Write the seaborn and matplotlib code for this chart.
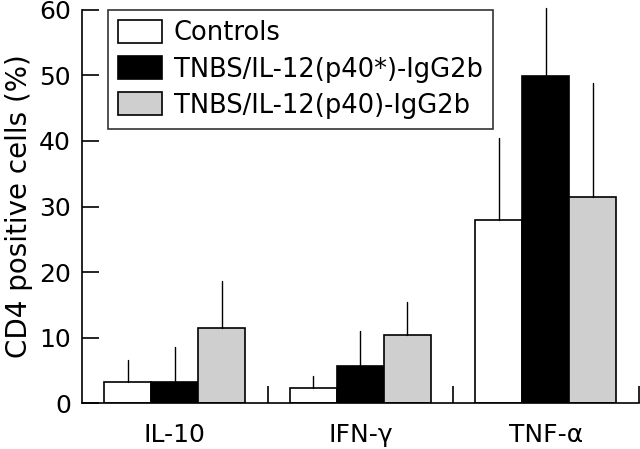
import matplotlib
matplotlib.use("Agg")
import matplotlib.pyplot as plt
import matplotlib.patches as mpatches
import numpy as np
import pandas as pd
import seaborn as sns

# data
cytokines = ["IL-10", "IFN-\u03b3", "TNF-\u03b1"]
groups = ["Controls", "TNBS/IL-12(p40*)-IgG2b", "TNBS/IL-12(p40)-IgG2b"]
controls = [3.2, 2.3, 27.9]
p40_star = [3.2, 5.6, 49.9]
p40 = [11.4, 10.4, 31.4]
controls_err = [3.4, 1.8, 12.5]
p40_star_err = [5.4, 5.4, 10.4]
p40_err = [7.2, 5.0, 17.5]

colors = ["white", "black", "#cfcfcf"]

values = [controls, p40_star, p40]
errors = [controls_err, p40_star_err, p40_err]
rows = []
for g, vals in zip(groups, values):
    for c, v in zip(cytokines, vals):
        rows.append({"cytokine": c, "group": g, "value": v})
df = pd.DataFrame(rows)

sns.set_theme(style="white")
plt.rcParams["font.family"] = ["DejaVu Sans"]
plt.rcParams["text.color"] = "black"
plt.rcParams["axes.labelcolor"] = "black"
plt.rcParams["xtick.color"] = "black"
plt.rcParams["ytick.color"] = "black"

fig = plt.figure(figsize=(6.4, 4.49), dpi=100)
ax = fig.add_axes([0.128, 0.102, 0.87, 0.876])

sns.barplot(data=df, x="cytokine", y="value", hue="group", palette=colors,
            edgecolor="black", linewidth=1.2, width=0.76, gap=0,
            errorbar=None, legend=False, ax=ax)

# upper-only error bars
for container, errs in zip(ax.containers, errors):
    for patch, e in zip(container.patches, errs):
        xc = patch.get_x() + patch.get_width() / 2
        top = patch.get_height()
        ax.plot([xc, xc], [top, top + e], color="black", lw=1.0, clip_on=False)

ax.set_xlim(-0.5, 2.5)
ax.set_ylim(0, 60)
ax.set_yticks([0, 10, 20, 30, 40, 50, 60])
ax.set_xlabel("")
ax.set_ylabel("CD4 positive cells (%)", fontsize=20, labelpad=4)
ax.tick_params(axis="y", direction="in", length=12, width=1.2, labelsize=18, left=True, pad=8)
ax.tick_params(axis="x", which="major", length=0, labelsize=18, pad=14)
ax.set_xticks([0.5, 1.5, 2.5], minor=True)
ax.tick_params(axis="x", which="minor", direction="in", length=12, width=1.2, bottom=True)

for side in ["top", "right"]:
    ax.spines[side].set_visible(False)
for side in ["left", "bottom"]:
    ax.spines[side].set_color("black")
    ax.spines[side].set_linewidth(1.2)

handles = [mpatches.Patch(facecolor=c, edgecolor="black", linewidth=1.2) for c in colors]
leg = ax.legend(handles, groups, loc="upper left", bbox_to_anchor=(0.047, 1.0),
                borderaxespad=0, fontsize=18.5, frameon=True, fancybox=False,
                edgecolor="black", handlelength=1.7, handleheight=1.0, borderpad=0.4,
                labelspacing=0.38, handletextpad=0.45)
leg.get_frame().set_linewidth(1.2)

fig.savefig("out.png", dpi=100)
plt.close(fig)
